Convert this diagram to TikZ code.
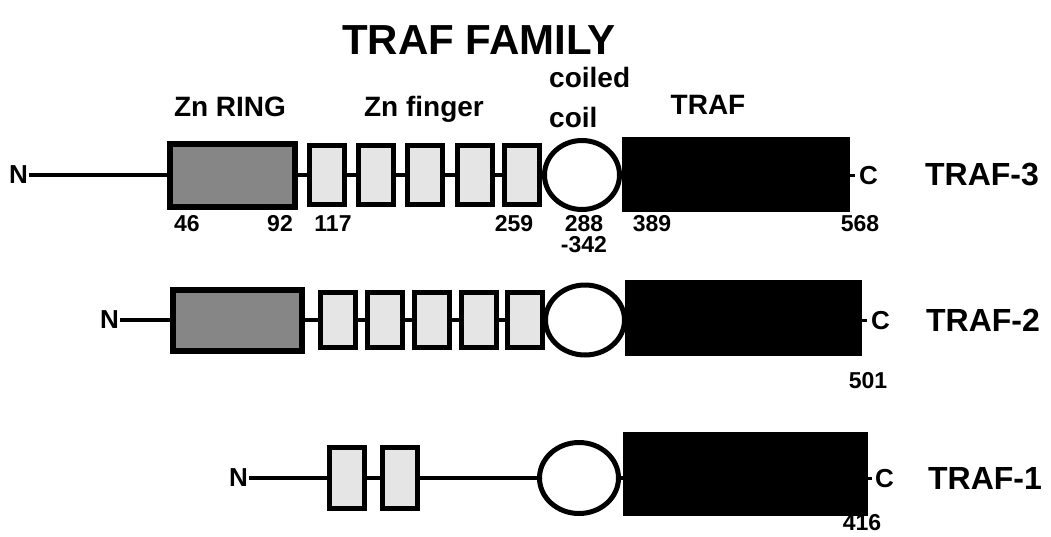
\documentclass[tikz,border=0pt]{standalone}
\usepackage{fontspec}
\setmainfont{Liberation Sans}
\usetikzlibrary{shapes.geometric}
\tikzset{
  ringbox/.style={draw=black, line width=6pt, fill=gray!95, inner sep=0pt},
  fingerbox/.style={draw=black, line width=5pt, fill=gray!20, inner sep=0pt, minimum width=35pt},
  coilshape/.style={ellipse, draw=black, line width=5pt, fill=white, inner sep=0pt},
  trafbox/.style={fill=black, inner sep=0pt},
  backbone/.style={line width=4pt},
  ticklink/.style={line width=3pt},
  titletxt/.style={font=\bfseries\fontsize{42}{46}\selectfont},
  headtxt/.style={font=\bfseries\fontsize{28}{30}\selectfont},
  endtxt/.style={font=\bfseries\fontsize{26}{28}\selectfont, inner sep=1pt},
  nametxt/.style={font=\bfseries\fontsize{32}{34}\selectfont},
  numtxt/.style={font=\bfseries\fontsize{23}{25}\selectfont, anchor=base, inner sep=0pt},
}
\begin{document}
\begin{tikzpicture}[x=1pt,y=-1pt]
\useasboundingbox (0,0) rectangle (1051,536);

% headings
\node[titletxt] (title) at (479,40) {TRAF FAMILY};
\node[headtxt, anchor=base] (hring) at (230,116) {Zn RING};
\node[headtxt, anchor=base] (hfinger) at (424,116) {Zn finger};
\node[headtxt, anchor=base west, inner sep=0pt] (hcoiled) at (549,87) {coiled};
\node[headtxt, anchor=base west, inner sep=0pt] (hcoil) at (549,127) {coil};
\node[headtxt, anchor=base] (htraf) at (708,114) {TRAF};

% ---------- TRAF-3 ----------
\node[endtxt, anchor=east] (n3) at (29,175) {N};
\node[ringbox, minimum width=125pt, minimum height=63pt] (r3) at (232.5,175) {};
\node[fingerbox, minimum height=59pt] (f31) at (327,175) {};
\node[fingerbox, minimum height=59pt] (f32) at (376,175) {};
\node[fingerbox, minimum height=59pt] (f33) at (425,175) {};
\node[fingerbox, minimum height=59pt] (f34) at (475,175) {};
\node[fingerbox, minimum height=59pt] (f35) at (522,175) {};
\node[coilshape, minimum width=75pt, minimum height=69pt] (c3) at (582,175) {};
\node[trafbox, minimum width=228pt, minimum height=75pt] (b3) at (736,174) {};
\coordinate (t3) at (855,175);
\node[endtxt, anchor=west] (e3) at (858,176) {C};
\node[nametxt] (l3) at (982,175) {TRAF-3};
\draw[backbone] (n3.east) -- (r3.west);
\draw[backbone] (r3.east) -- (f31.west);
\draw[backbone] (f31.east) -- (f32.west);
\draw[backbone] (f32.east) -- (f33.west);
\draw[backbone] (f33.east) -- (f34.west);
\draw[backbone] (f34.east) -- (f35.west);
\draw[ticklink] (b3.east |- t3) -- (t3);
\node[numtxt] (a46) at (187,231) {46};
\node[numtxt] (a92) at (280,231) {92};
\node[numtxt] (a117) at (333,231) {117};
\node[numtxt] (a259) at (514,231) {259};
\node[numtxt] (a288) at (584,231) {288};
\node[numtxt] (a342) at (584,252) {-342};
\node[numtxt] (a389) at (652,231) {389};
\node[numtxt] (a568) at (860,231) {568};

% ---------- TRAF-2 ----------
\node[endtxt, anchor=east] (n2) at (120,320) {N};
\node[ringbox, minimum width=129pt, minimum height=61pt] (r2) at (237.5,320) {};
\node[fingerbox, minimum height=55pt] (f21) at (338,320) {};
\node[fingerbox, minimum height=55pt] (f22) at (385,320) {};
\node[fingerbox, minimum height=55pt] (f23) at (432,320) {};
\node[fingerbox, minimum height=55pt] (f24) at (479,320) {};
\node[fingerbox, minimum height=55pt] (f25) at (525,320) {};
\node[coilshape, minimum width=79pt, minimum height=70pt] (c2) at (585,320) {};
\node[trafbox, minimum width=237pt, minimum height=76pt] (b2) at (743.5,318) {};
\coordinate (t2) at (867,320);
\node[endtxt, anchor=west] (e2) at (870,321) {C};
\node[nametxt] (l2) at (983,320) {TRAF-2};
\draw[backbone] (n2.east) -- (r2.west);
\draw[backbone] (r2.east) -- (f21.west);
\draw[backbone] (f21.east) -- (f22.west);
\draw[backbone] (f22.east) -- (f23.west);
\draw[backbone] (f23.east) -- (f24.west);
\draw[backbone] (f24.east) -- (f25.west);
\draw[ticklink] (b2.east |- t2) -- (t2);
\node[numtxt] (a501) at (868,388) {501};

% ---------- TRAF-1 ----------
\node[endtxt, anchor=east] (n1) at (249,478) {N};
\node[fingerbox, minimum height=61pt] (f11) at (347,478) {};
\node[fingerbox, minimum height=61pt] (f12) at (400,478) {};
\node[coilshape, minimum width=79pt, minimum height=71pt] (c1) at (579,478) {};
\node[trafbox, minimum width=245pt, minimum height=84pt] (b1) at (745.5,474) {};
\coordinate (t1) at (872,478);
\node[endtxt, anchor=west] (e1) at (874,479) {C};
\node[nametxt] (l1) at (985,478) {TRAF-1};
\draw[backbone] (n1.east) -- (f11.west);
\draw[backbone] (f11.east) -- (f12.west);
\draw[backbone] (f12.east) -- (c1.west);
\draw[backbone] (c1.east) -- (b1.west |- c1.east);
\draw[ticklink] (b1.east |- t1) -- (t1);
\node[numtxt] (a416) at (862,530) {416};
\end{tikzpicture}
\end{document}
